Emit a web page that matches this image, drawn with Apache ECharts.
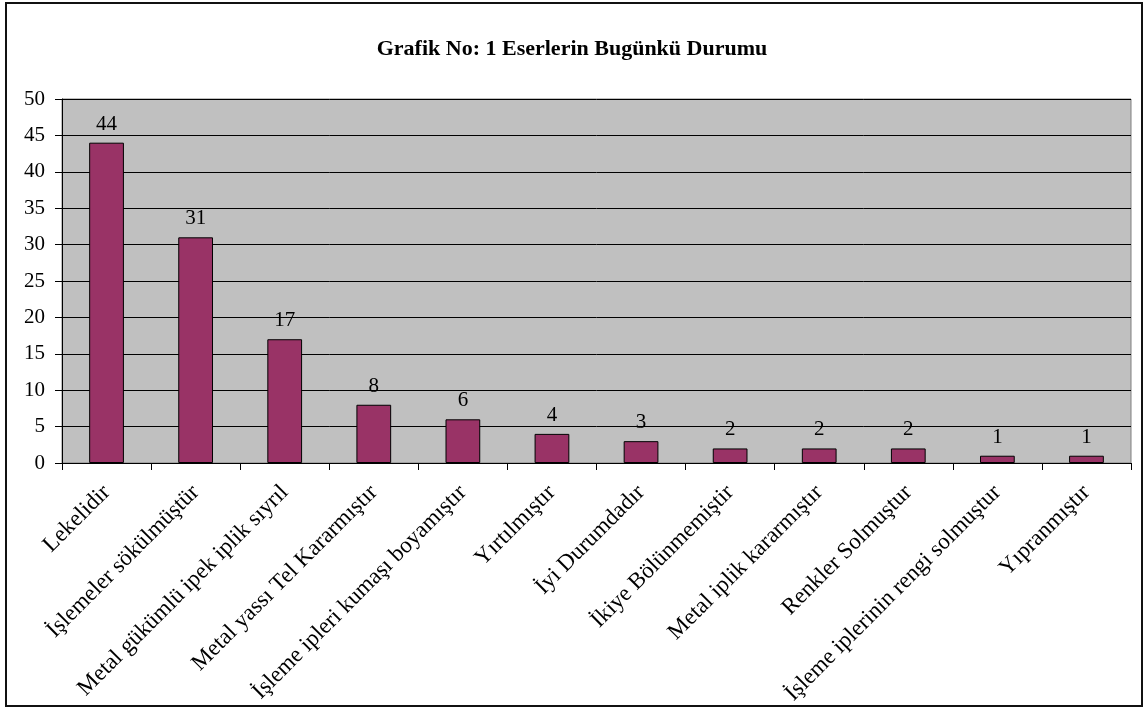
<!DOCTYPE html>
<html>
<head>
<meta charset="utf-8">
<title>Grafik No: 1 Eserlerin Bugünkü Durumu</title>
<script src="https://cdn.jsdelivr.net/npm/echarts@6/dist/echarts.min.js"></script>
<style>
  html, body { margin: 0; padding: 0; background: #fff; }
  #chart { width: 1144px; height: 708px; }
</style>
</head>
<body>
<div id="chart"></div>
<script>
const categories = [
  'Lekelidir',
  'İşlemeler sökülmüştür',
  'Metal gükümlü ipek iplik sıyrılmış',
  'Metal yassı Tel Kararmıştır',
  'İşleme ipleri kumaşı boyamıştır',
  'Yırtılmıştır',
  'İyi Durumdadır',
  'İkiye Bölünmemiştir',
  'Metal iplik kararmıştır',
  'Renkler Solmuştur',
  'İşleme iplerinin rengi solmuştur',
  'Yıpranmıştır'
];
const counts = [44, 31, 17, 8, 6, 4, 3, 2, 2, 2, 1, 1];
const yMin = 0;
const yMax = 50;
const yStep = 5;

const font = '"Liberation Serif", "DejaVu Serif", serif';
const xLabelSize = 23;

// long category names get clipped like in the original sheet
const measureCtx = document.createElement('canvas').getContext('2d');
measureCtx.font = xLabelSize + 'px ' + font;
function clipLabel(text, maxWidth) {
  let s = text;
  while (s.length > 1 && measureCtx.measureText(s).width > maxWidth) {
    s = s.slice(0, -1);
  }
  return s;
}

const chart = echarts.init(document.getElementById('chart'), null, { renderer: 'canvas' });

chart.setOption({
  backgroundColor: '#fff',
  animation: false,
  title: {
    text: 'Grafik No: 1 Eserlerin Bugünkü Durumu',
    left: 'center',
    top: 33,
    textStyle: {
      fontFamily: font,
      fontSize: 22,
      fontWeight: 'bold',
      color: '#000'
    }
  },
  graphic: [{
    type: 'rect',
    shape: { x: 6, y: 3, width: 1136, height: 703 },
    style: { fill: 'none', stroke: '#111', lineWidth: 2 },
    silent: true,
    z: 100
  }],
  grid: {
    left: 62,
    right: 13,
    top: 99,
    bottom: 245,
    containLabel: false,
    outerBoundsMode: 'none',
    show: true,
    backgroundColor: '#C0C0C0',
    borderColor: '#808080',
    borderWidth: 1
  },
  xAxis: {
    type: 'category',
    data: categories,
    axisLine: { lineStyle: { color: '#000', width: 1 } },
    axisTick: { show: true, length: 7, lineStyle: { color: '#000' } },
    axisLabel: {
      rotate: 45,
      interval: 0,
      margin: 26,
      color: '#000',
      fontFamily: font,
      fontSize: xLabelSize,
      formatter: (v) => clipLabel(v, 295)
    }
  },
  yAxis: {
    type: 'value',
    min: yMin,
    max: yMax,
    interval: yStep,
    axisLine: { show: true, lineStyle: { color: '#000', width: 1 } },
    axisTick: { show: true, length: 7, lineStyle: { color: '#000' } },
    axisLabel: {
      margin: 17,
      color: '#000',
      fontFamily: font,
      fontSize: 21
    },
    splitLine: { show: true, lineStyle: { color: '#000', width: 1 } }
  },
  series: [{
    type: 'bar',
    data: counts,
    barWidth: '39%',
    itemStyle: {
      color: '#993366',
      borderColor: '#000',
      borderWidth: 1
    },
    label: {
      show: true,
      position: 'top',
      distance: 8,
      color: '#000',
      fontFamily: font,
      fontSize: 21
    }
  }]
});
</script>
</body>
</html>
